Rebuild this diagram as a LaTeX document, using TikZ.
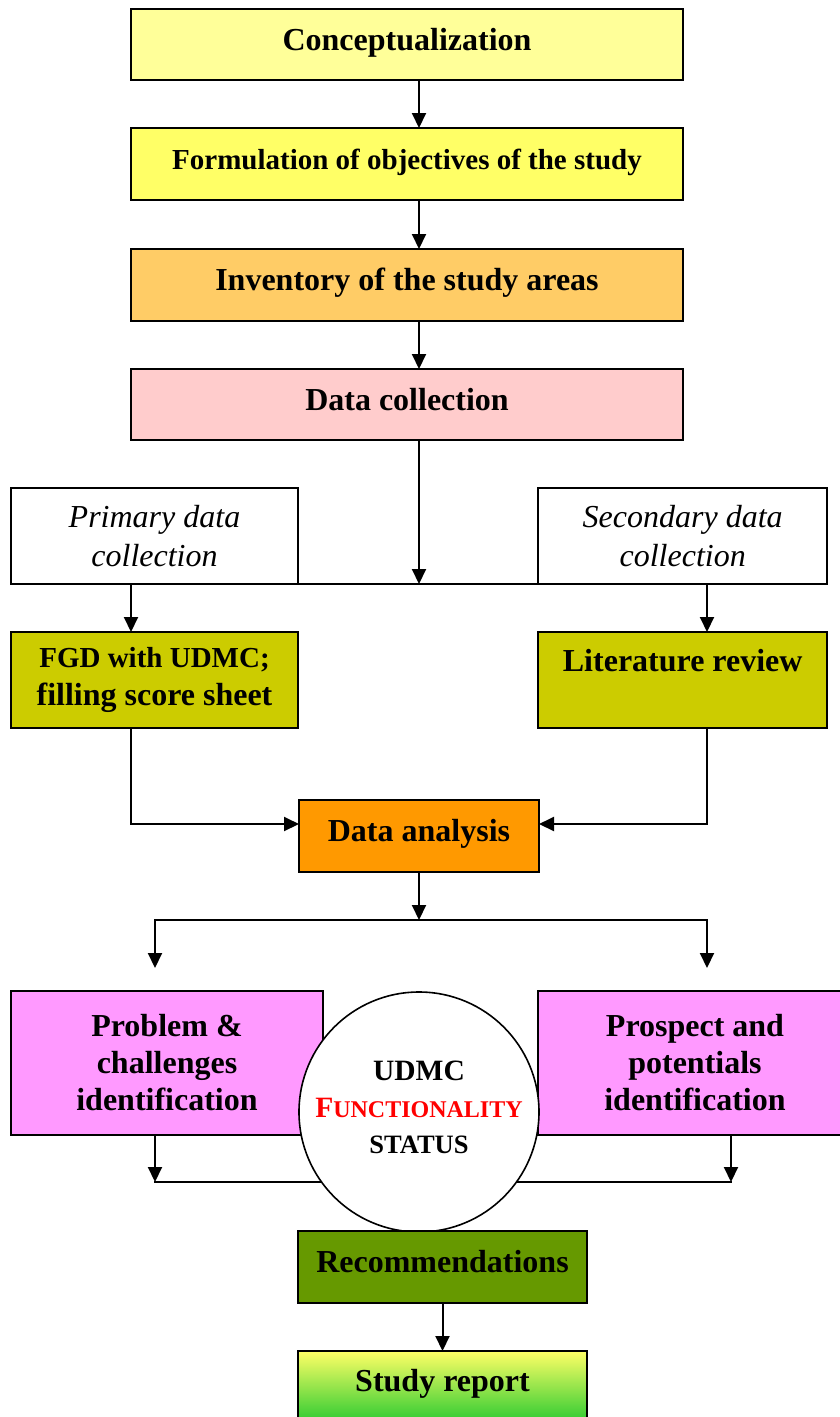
\documentclass[tikz,border=0pt]{standalone}
\usepackage{fontspec}
\setmainfont{Liberation Serif}
\usetikzlibrary{arrows.meta}

\definecolor{fillconcept}{HTML}{FFFF99}
\definecolor{fillobj}{HTML}{FFFF66}
\definecolor{fillinv}{HTML}{FFCC66}
\definecolor{filldcol}{HTML}{FFCCCC}
\definecolor{fillolive}{HTML}{CCCC00}
\definecolor{fillorange}{HTML}{FF9900}
\definecolor{fillpink}{HTML}{FF99FF}
\definecolor{fillrec}{HTML}{669900}
\definecolor{reptop}{HTML}{FFFF66}
\definecolor{repbot}{HTML}{33CC33}
\definecolor{statred}{HTML}{FF0000}

\tikzset{
  box/.style={draw, line width=2pt, inner sep=0pt, outer sep=0pt, align=center,
    font=\bfseries\fontsize{32}{38}\selectfont},
  oneline/.style={text height=24pt, text depth=13pt},
  arr/.style={line width=2pt, -{Triangle[length=15pt,width=14pt]}},
  ln/.style={line width=2pt, line cap=rect},
}

\begin{document}
\begin{tikzpicture}[x=1pt,y=-1pt]
\useasboundingbox (0,0) rectangle (840,1417);

% main column
\node[box,oneline,fill=fillconcept,minimum width=552pt,minimum height=71pt] (concept) at (407,44.5) {Conceptualization};
\node[box,oneline,fill=fillobj,minimum width=552pt,minimum height=72pt,
  font=\bfseries\fontsize{29}{34}\selectfont] (obj) at (407,164) {Formulation of objectives of the study};
\node[box,oneline,fill=fillinv,minimum width=552pt,minimum height=72pt] (inv) at (407,285) {Inventory of the study areas};
\node[box,oneline,fill=filldcol,minimum width=552pt,minimum height=71pt] (dcol) at (407,404.5) {Data collection};

% data sources
\node[box,fill=white,minimum width=287pt,minimum height=96pt,
  font=\itshape\fontsize{32}{38.5}\selectfont] (prim) at (154.5,536) {Primary data\\collection};
\node[box,fill=white,minimum width=289.5pt,minimum height=96pt,
  font=\itshape\fontsize{32}{38.5}\selectfont] (sec) at (682.7,536) {Secondary data\\collection};

\node[box,fill=fillolive,minimum width=287pt,minimum height=96pt,
  font=\bfseries\fontsize{32}{38.5}\selectfont] (fgd) at (154.5,680)
  {{\fontsize{29}{38.5}\selectfont FGD with UDMC;}\\filling score sheet};
\node[box,fill=fillolive,minimum width=289.5pt,minimum height=96pt,
  text height=22pt,text depth=38.6pt] (lit) at (682.7,680) {Literature review};

\node[box,oneline,fill=fillorange,minimum width=240pt,minimum height=72pt] (da) at (419,836) {Data analysis};

% connectors of the upper part
\coordinate (ca) at (419,0);
\coordinate (la) at (131,0);
\coordinate (ra) at (707,0);
\coordinate (my) at (0,824);
\draw[arr] (ca |- concept.south) -- (ca |- obj.north);
\draw[arr] (ca |- obj.south) -- (ca |- inv.north);
\draw[arr] (ca |- inv.south) -- (ca |- dcol.north);
\draw[ln] (prim.south east) -- (sec.south west);
\draw[arr] (ca |- dcol.south) -- (ca |- prim.south);
\draw[arr] (la |- prim.south) -- (la |- fgd.north);
\draw[arr] (ra |- sec.south) -- (ra |- lit.north);
\draw[arr] (la |- fgd.south) -- (la |- my) -- (da.west |- my);
\draw[arr] (ra |- lit.south) -- (ra |- my) -- (da.east |- my);

% split below the analysis
\coordinate (sl) at (155,920);
\coordinate (sr) at (707,920);
\coordinate (slt) at (155,968);
\coordinate (srt) at (707,968);
\draw[arr] (da.south) -- (da.south |- sl);
\draw[line width=2pt,{Triangle[length=15pt,width=14pt]}-{Triangle[length=15pt,width=14pt]}]
  (slt) -- (sl) -- (sr) -- (srt);

% outcome boxes
\node[box,fill=fillpink,minimum width=312pt,minimum height=144pt,
  font=\bfseries\fontsize{32}{37}\selectfont] (prob) at (167,1063) {Problem \&\\challenges\\identification};
\node[box,fill=fillpink,minimum width=314pt,minimum height=144pt,
  font=\bfseries\fontsize{32}{37}\selectfont] (prosp) at (695,1063) {Prospect and\\potentials\\identification};

\coordinate (bl) at (155,1182);
\coordinate (br) at (731,1182);
\draw[arr] (bl |- prob.south) -- (bl);
\draw[arr] (br |- prosp.south) -- (br);
\draw[ln] (bl) -- (br);

% central status circle
\node[draw,circle,line width=1.6pt,fill=white,minimum size=240pt,inner sep=0pt] (stat) at (419,1112) {};
\node[align=center,inner sep=0pt,font=\bfseries\fontsize{29.5}{36.3}\selectfont] (stattxt) at (419,1107.5)
  {UDMC\\{\color{statred}F{\fontsize{24}{36.3}\selectfont UNCTIONALITY}}\\{\fontsize{26.5}{36.3}\selectfont STATUS}};

% final steps
\node[box,oneline,fill=fillrec,minimum width=289pt,minimum height=72pt] (rec) at (442.5,1267) {Recommendations};
\node[box,oneline,top color=reptop,bottom color=repbot,minimum width=289pt,minimum height=69pt] (rep) at (442.5,1385.5) {Study report};
\draw[arr] (rec.south) -- (rep.north);
\end{tikzpicture}
\end{document}
